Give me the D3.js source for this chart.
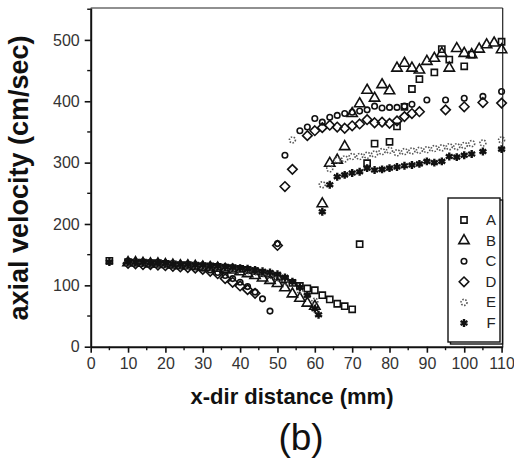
<!DOCTYPE html>
<html>
<head>
<meta charset="utf-8">
<script src="https://cdn.jsdelivr.net/npm/d3@7"></script>
<style>
  body { margin: 0; background: #fff; }
  svg { display: block; }
</style>
</head>
<body>
<script>
// series data (x in mm, y in cm/sec)
const xA = [5,10,12,14,16,18,20,22,24,26,28,30,32,34,36,38,40,42,44,46,48,50,52,54,56,58,60,62,64,66,68,70,72,74,76,80,82,84,86,88,92,94,96,100,102,110];
const yA = [140,138,137,137,136,136,135,134,133,133,132,131,131,130,129,128,127,125,123,120,118,114,110,104,99,95,92,84,77,70,66,61,167,299,331,334,359,391,420,436,447,485,468,457,476,497];

const xB = [10,12,14,16,18,20,22,24,26,28,30,32,34,36,38,40,42,44,46,48,50,52,54,56,58,60,62,64,66,68,70,72,74,76,78,80,82,84,86,88,90,92,94,96,98,100,102,104,106,108,110];
const yB = [137,137,136,135,135,134,133,132,132,131,130,129,128,126,125,122,119,116,112,108,103,96,86,79,71,66,233,299,304,326,380,396,418,405,427,417,454,462,454,451,465,470,478,454,486,478,476,485,492,495,484];

const xC = [10,12,14,16,18,20,22,24,26,28,30,32,34,36,38,40,42,44,46,48,50,52,56,58,60,62,64,66,68,70,72,74,76,78,80,82,84,86,90,95,100,105,110];
const yC = [139,138,137,137,136,135,134,133,132,130,128,125,121,116,111,105,98,89,78,58,168,312,352,358,372,366,374,377,380,382,384,386,392,389,390,390,392,395,402,402,405,408,416];

const xD = [10,12,14,16,18,20,22,24,26,28,30,32,34,36,38,40,42,44,50,52,54,58,60,62,64,66,68,70,72,74,76,78,80,82,84,86,88,95,100,105,110];
const yD = [136,135,134,134,133,132,131,130,129,128,126,123,119,111,105,99,93,87,165,261,289,344,352,357,361,358,356,360,363,370,365,366,364,368,375,380,383,386,391,398,397];

const xE = [10,12,14,16,18,20,22,24,26,28,30,32,34,36,38,40,42,44,46,48,50,52,54,56,58,60,62,64,66,68,70,72,74,76,78,80,82,84,86,88,90,92,94,96,98,100,102,105,110];
const yE = [137,137,136,136,135,134,134,133,132,132,131,130,129,128,127,126,124,122,119,116,112,106,337,92,84,74,264,290,304,306,310,310,312,314,318,320,316,318,319,320,321,323,324,326,326,328,331,332,337];

const xF = [5,10,12,14,16,18,20,22,24,26,28,30,32,34,36,38,40,42,44,46,48,50,52,54,56,58,60,61,62,64,66,68,70,72,74,76,78,80,82,84,86,88,90,92,94,96,98,100,102,105,110];
const yF = [138,139,138,138,137,137,136,135,134,134,133,133,132,131,130,129,128,127,125,123,121,118,113,106,97,84,62,52,220,264,277,280,283,285,291,288,289,291,293,295,296,298,302,300,302,310,309,312,314,318,322];

const seriesNames = ["A","B","C","D","E","F"];
const xTicks = [0,10,20,30,40,50,60,70,80,90,100,110];
const yTicks = [0,100,200,300,400,500];

const svg = d3.select("body").append("svg")
  .attr("width", 514)
  .attr("height", 461);

const x = d3.scaleLinear().domain([0, 110.3]).range([90.7, 502.7]);
const y = d3.scaleLinear().domain([0, 552]).range([346.7, 8]);

// frame
svg.append("line").attr("x1", x(0)).attr("x2", x(110.3)).attr("y1", y(552)).attr("y2", y(552))
  .attr("stroke", "#222").attr("stroke-width", 1.2);
svg.append("line").attr("x1", x(110.3)).attr("x2", x(110.3)).attr("y1", y(552)).attr("y2", y(0))
  .attr("stroke", "#222").attr("stroke-width", 1.2);

// axes
const xAxis = svg.append("g")
  .attr("transform", "translate(0," + y(0) + ")")
  .call(d3.axisBottom(x).tickValues(xTicks).tickSize(6).tickSizeOuter(0).tickPadding(5));
const yAxis = svg.append("g")
  .attr("transform", "translate(" + x(0) + ",0)")
  .call(d3.axisLeft(y).tickValues(yTicks).tickSize(6).tickSizeOuter(0).tickPadding(5));

// minor ticks
const xMinor = d3.range(5, 110, 10);
svg.append("g").selectAll("line").data(xMinor).enter().append("line")
  .attr("x1", d => x(d)).attr("x2", d => x(d))
  .attr("y1", y(0)).attr("y2", y(0) + 3.5)
  .attr("stroke", "#111").attr("stroke-width", 1.4);
const yMinor = d3.range(50, 552, 100);
svg.append("g").selectAll("line").data(yMinor).enter().append("line")
  .attr("x1", x(0) - 3.5).attr("x2", x(0))
  .attr("y1", d => y(d)).attr("y2", d => y(d))
  .attr("stroke", "#111").attr("stroke-width", 1.4);

[xAxis, yAxis].forEach(a => {
  a.select(".domain").attr("stroke", "#111").attr("stroke-width", 2);
  a.selectAll(".tick line").attr("stroke", "#111").attr("stroke-width", 1.6);
  a.selectAll(".tick text")
    .attr("font-family", "Liberation Sans, Arial, sans-serif")
    .attr("font-size", "16px")
    .attr("fill", "#333");
});

// markers
const symbols = [
  d3.symbol().type(d3.symbolSquare).size(38),
  d3.symbol().type(d3.symbolTriangle).size(46),
  d3.symbol().type(d3.symbolCircle).size(24),
  d3.symbol().type(d3.symbolDiamond2).size(58),
  d3.symbol().type(d3.symbolCircle).size(28),
  d3.symbol().type(d3.symbolAsterisk).size(44)
];

const allSeries = [[xA,yA],[xB,yB],[xC,yC],[xD,yD],[xE,yE],[xF,yF]];

function styleMarker(sel, i) {
  sel.attr("fill", "none").attr("stroke", "#111").attr("stroke-width", 1.6);
  if (i === 4) sel.attr("stroke-dasharray", "1.5,1.5").attr("stroke", "#555");
  if (i === 5) sel.attr("stroke-width", 2.4);
}

allSeries.forEach((s, i) => {
  const pts = s[0].map((xv, k) => ({x: xv, y: s[1][k]}));
  const g = svg.append("g");
  g.selectAll("path").data(pts).enter().append("path")
    .attr("d", symbols[i])
    .attr("transform", d => "translate(" + x(d.x) + "," + y(d.y) + ")")
    .call(styleMarker, i);
});

// legend
const legend = svg.append("g");
legend.append("rect").attr("x", 450.5).attr("y", 200).attr("width", 52).attr("height", 144)
  .attr("fill", "none").attr("stroke", "#111").attr("stroke-width", 1.4);
legend.append("rect").attr("x", 448).attr("y", 198).attr("width", 52).attr("height", 144)
  .attr("fill", "#fff").attr("stroke", "#111").attr("stroke-width", 1.4);
seriesNames.forEach((n, i) => {
  const ly = 220 + i * 20.6;
  legend.append("path").attr("d", symbols[i])
    .attr("transform", "translate(464," + ly + ")")
    .call(styleMarker, i);
  legend.append("text").text(n)
    .attr("x", 491).attr("y", ly + 5)
    .attr("text-anchor", "middle")
    .attr("font-family", "Liberation Sans, Arial, sans-serif")
    .attr("font-size", "15px")
    .attr("fill", "#222");
});

// titles
svg.append("text")
  .text("axial velocity (cm/sec)")
  .attr("transform", "translate(28,178) rotate(-90)")
  .attr("text-anchor", "middle")
  .attr("font-family", "Liberation Sans, Arial, sans-serif")
  .attr("font-weight", "bold")
  .attr("font-size", "27px")
  .attr("fill", "#111");

svg.append("text")
  .text("x-dir distance (mm)")
  .attr("x", 292).attr("y", 404)
  .attr("text-anchor", "middle")
  .attr("font-family", "Liberation Sans, Arial, sans-serif")
  .attr("font-weight", "bold")
  .attr("font-size", "22px")
  .attr("fill", "#111");

svg.append("text")
  .text("(b)")
  .attr("x", 301).attr("y", 450)
  .attr("text-anchor", "middle")
  .attr("font-family", "Liberation Sans, Arial, sans-serif")
  .attr("font-size", "37px")
  .attr("fill", "#111");
</script>
</body>
</html>
